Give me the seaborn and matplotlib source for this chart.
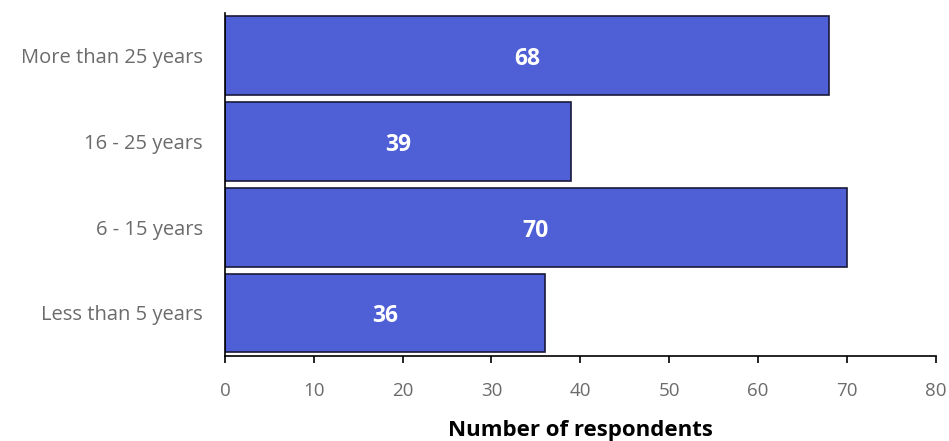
import matplotlib.pyplot as plt
import seaborn as sns
import pandas as pd

# years of experience vs number of respondents
categories = ['More than 25 years', '16 - 25 years', '6 - 15 years', 'Less than 5 years']
counts = [68, 39, 70, 36]
xticks = [0, 10, 20, 30, 40, 50, 60, 70, 80]

df = pd.DataFrame({'experience': categories, 'respondents': counts})

sns.set_style('white')
plt.rcParams['font.family'] = ['Open Sans', 'DejaVu Sans']

fig = plt.figure(figsize=(9.49, 4.41), dpi=100)
ax = fig.add_axes([0.237, 0.193, 0.749, 0.778])

sns.barplot(data=df, x='respondents', y='experience', orient='h', color='#4f5fd5',
            saturation=1, width=0.92, edgecolor='#1a1a3a', linewidth=1.2, ax=ax)

# value labels in the middle of each bar
for i, v in enumerate(counts):
    ax.text(v / 2, i + 0.04, str(v), ha='center', va='center', color='white',
            fontsize=16.5, fontweight='bold')

ax.set_xlim(0, 80)
ax.set_ylim(3.5, -0.5)
ax.set_xticks(xticks)
ax.tick_params(axis='x', labelcolor='#6b6b6b', labelsize=13.5, length=5, width=1.2,
               direction='out', pad=14, bottom=True, color='black')
ax.tick_params(axis='y', labelcolor='#6b6b6b', labelsize=14.5, length=0, pad=16)
ax.set_xlabel('Number of respondents', fontsize=16, fontweight='bold', color='black', labelpad=14)
ax.set_ylabel('')
for s in ['top', 'right']:
    ax.spines[s].set_visible(False)
for s in ['left', 'bottom']:
    ax.spines[s].set_color('black')
    ax.spines[s].set_linewidth(1.2)

fig.savefig('out.png', dpi=100)
